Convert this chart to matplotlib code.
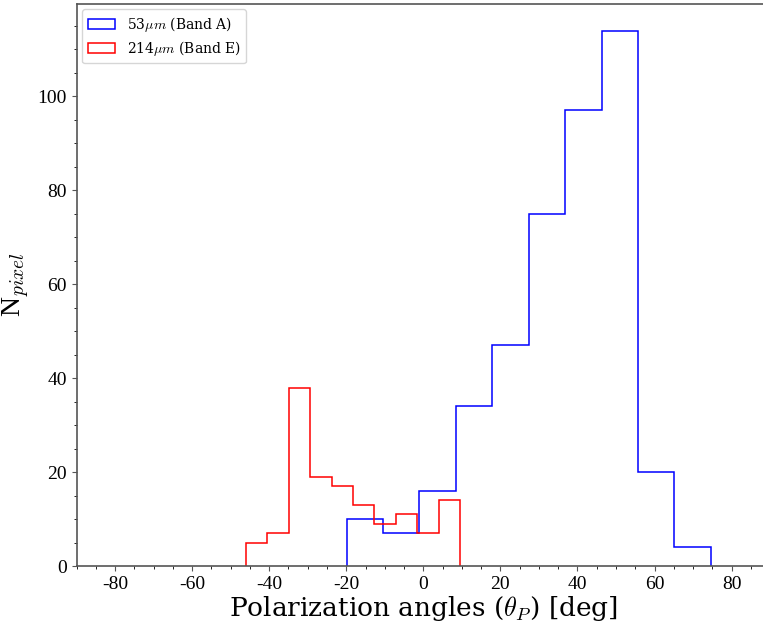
import numpy as np
import matplotlib.pyplot as plt
from matplotlib.ticker import MultipleLocator

plt.rcParams['font.family'] = 'DejaVu Serif'
plt.rcParams['mathtext.fontset'] = 'cm'
plt.rcParams['axes.unicode_minus'] = False

# 53 micron (band A) histogram
counts_A = [10, 7, 16, 34, 47, 75, 97, 114, 20, 4]
range_A = (-19.9, 74.6)
# 214 micron (band E) histogram
counts_E = [5, 7, 38, 19, 17, 13, 9, 11, 7, 14]
range_E = (-46.0, 9.5)

edges_A = np.linspace(range_A[0], range_A[1], len(counts_A) + 1)
edges_E = np.linspace(range_E[0], range_E[1], len(counts_E) + 1)

fig = plt.figure(figsize=(7.63, 6.26), dpi=100)
ax = fig.add_axes([0.1003, 0.0958, 0.909, 0.898])

ax.hist(edges_A[:-1], bins=edges_A, weights=counts_A, histtype='step',
        color='blue', lw=1.1, label=r'53$\mu m$ (Band A)')
ax.hist(edges_E[:-1], bins=edges_E, weights=counts_E, histtype='step',
        color='red', lw=1.1, label=r'214$\mu m$ (Band E)')

ax.set_xlim(-90, 90)
ax.set_ylim(0, 119.7)
ax.xaxis.set_major_locator(MultipleLocator(20))
ax.xaxis.set_minor_locator(MultipleLocator(5))
ax.yaxis.set_major_locator(MultipleLocator(20))
ax.yaxis.set_minor_locator(MultipleLocator(5))
ax.tick_params(color='#555555')
for lab in ax.get_xticklabels() + ax.get_yticklabels():
    lab.set_family('Liberation Serif')
    lab.set_fontsize(14)
for s in ax.spines.values():
    s.set_color('#555555')
    s.set_linewidth(1.2)

ax.set_xlabel(r'Polarization angles ($\theta_P$) [deg]', fontsize=19, labelpad=1)
ax.set_ylabel(r'N$_{pixel}$', fontsize=20, family='Liberation Serif')
ax.legend(loc='upper left', fontsize=10, borderaxespad=0.4, labelspacing=0.35)

plt.savefig("out.png")
